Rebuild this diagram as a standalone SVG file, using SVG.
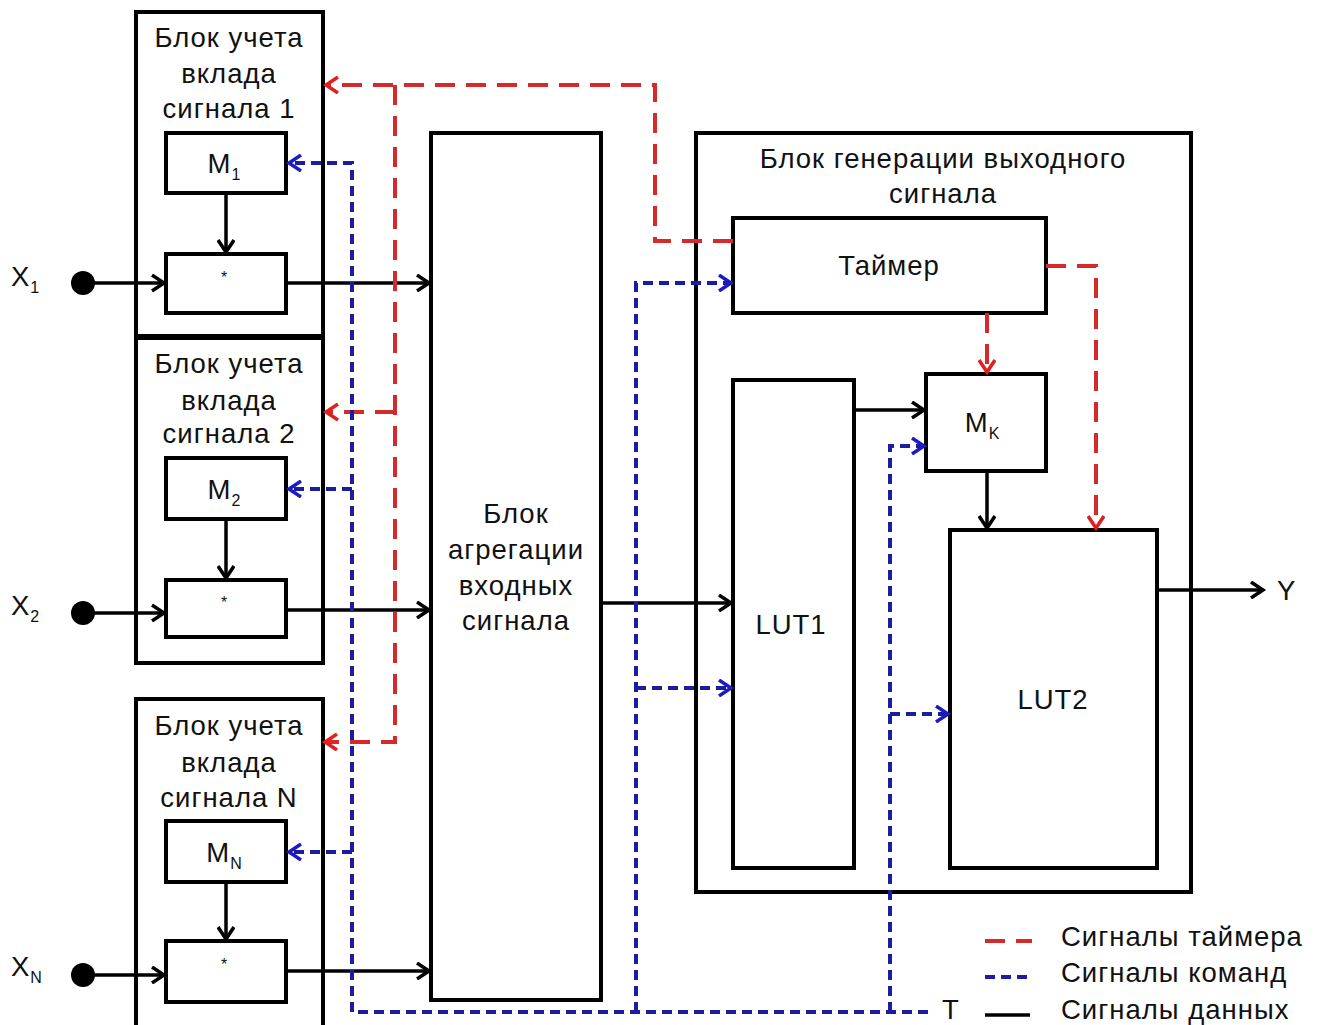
<svg xmlns="http://www.w3.org/2000/svg" width="1322" height="1025" viewBox="0 0 1322 1025">
<style>
  .box{fill:#fff;stroke:#000;stroke-width:4}
  .t{font-family:"Liberation Sans",Arial,sans-serif;font-size:27.5px;letter-spacing:1px;fill:#111;text-anchor:middle}
  .tl{font-family:"Liberation Sans",Arial,sans-serif;font-size:27.5px;letter-spacing:1px;fill:#111}
  .sub{font-size:16px;letter-spacing:0}
  .star{font-family:"Liberation Sans",Arial,sans-serif;font-size:16px;fill:#111;text-anchor:middle}
  .data{fill:none;stroke:#000;stroke-width:3.5}
  .red{fill:none;stroke:#d42a2a;stroke-width:4;stroke-dasharray:20 11}
  .blue{fill:none;stroke:#1c1ca0;stroke-width:4;stroke-dasharray:10 6}
</style>
<defs>
  <marker id="ak" markerUnits="userSpaceOnUse" markerWidth="18" markerHeight="18" refX="14" refY="9" orient="auto">
    <path d="M2,1 L14,9 L2,17" fill="none" stroke="#000" stroke-width="3.5"/>
  </marker>
  <marker id="ar" markerUnits="userSpaceOnUse" markerWidth="18" markerHeight="18" refX="14" refY="9" orient="auto">
    <path d="M2,1 L14,9 L2,17" fill="none" stroke="#e02020" stroke-width="3.5"/>
  </marker>
  <marker id="ab" markerUnits="userSpaceOnUse" markerWidth="18" markerHeight="18" refX="14" refY="9" orient="auto">
    <path d="M2,1 L14,9 L2,17" fill="none" stroke="#1c1cc0" stroke-width="3.5"/>
  </marker>
</defs>
<rect width="1322" height="1025" fill="#fff"/>

<g id="block1">
  <rect class="box" x="136" y="12" width="187" height="324"/>
  <text class="t" x="229" y="47">Блок учета</text>
  <text class="t" x="229" y="83">вклада</text>
  <text class="t" x="229" y="118">сигнала  1</text>
</g>
<g id="m1">
  <rect class="box" x="166" y="133" width="120" height="60"/>
  <text class="t" x="224" y="173">M<tspan class="sub" dy="7">1</tspan></text>
</g>
<g id="mul1">
  <rect class="box" x="166" y="254" width="120" height="59"/>
  <text class="star" x="224" y="283">*</text>
</g>

<g id="block2">
  <rect class="box" x="136" y="338" width="187" height="325"/>
  <text class="t" x="229" y="373">Блок учета</text>
  <text class="t" x="229" y="410">вклада</text>
  <text class="t" x="229" y="443">сигнала  2</text>
</g>
<g id="m2">
  <rect class="box" x="166" y="458" width="120" height="61"/>
  <text class="t" x="224" y="499">M<tspan class="sub" dy="7">2</tspan></text>
</g>
<g id="mul2">
  <rect class="box" x="166" y="580" width="120" height="57"/>
  <text class="star" x="224" y="608">*</text>
</g>

<g id="blockN">
  <rect class="box" x="136" y="699" width="187" height="340"/>
  <text class="t" x="229" y="735">Блок учета</text>
  <text class="t" x="229" y="772">вклада</text>
  <text class="t" x="229" y="807">сигнала N</text>
</g>
<g id="mN">
  <rect class="box" x="166" y="821" width="120" height="61"/>
  <text class="t" x="224" y="862">M<tspan class="sub" dy="7">N</tspan></text>
</g>
<g id="mulN">
  <rect class="box" x="166" y="941" width="120" height="61"/>
  <text class="star" x="224" y="970">*</text>
</g>

<g id="inputs">
  <text class="tl" x="11" y="286">X<tspan class="sub" dy="7">1</tspan></text>
  <circle cx="83" cy="283" r="12" fill="#000"/>
  <text class="tl" x="11" y="615">X<tspan class="sub" dy="7">2</tspan></text>
  <circle cx="83" cy="613" r="12" fill="#000"/>
  <text class="tl" x="11" y="976">X<tspan class="sub" dy="7">N</tspan></text>
  <circle cx="83" cy="975" r="12" fill="#000"/>
</g>

<g id="aggregation">
  <rect class="box" x="431" y="133" width="170" height="867"/>
  <text class="t" x="516" y="523">Блок</text>
  <text class="t" x="516" y="559">агрегации</text>
  <text class="t" x="516" y="595">входных</text>
  <text class="t" x="516" y="630">сигнала</text>
</g>

<g id="output-block">
  <rect class="box" x="696" y="133" width="495" height="759"/>
  <text class="t" x="943" y="168">Блок генерации выходного</text>
  <text class="t" x="943" y="203">сигнала</text>
</g>
<g id="timer">
  <rect class="box" x="733" y="218" width="313" height="95"/>
  <text class="t" x="889" y="275">Таймер</text>
</g>
<g id="lut1">
  <rect class="box" x="733" y="380" width="121" height="488"/>
  <text class="t" x="791" y="634">LUT1</text>
</g>
<g id="mk">
  <rect class="box" x="926" y="374" width="120" height="97"/>
  <text class="t" x="982" y="432">M<tspan class="sub" dy="7">K</tspan></text>
</g>
<g id="lut2">
  <rect class="box" x="950" y="530" width="207" height="338"/>
  <text class="t" x="1053" y="709">LUT2</text>
</g>
<g id="output-y">
  <text class="tl" x="1277" y="600">Y</text>
</g>
<g id="t-input">
  <text class="tl" x="942" y="1019">T</text>
</g>

<g id="connectors">
  <!-- data -->
  <path class="data" d="M83,283 H164" marker-end="url(#ak)"/>
  <path class="data" d="M286,283 H429" marker-end="url(#ak)"/>
  <path class="data" d="M226,193 V252" marker-end="url(#ak)"/>
  <path class="data" d="M83,613 H164" marker-end="url(#ak)"/>
  <path class="data" d="M286,610 H429" marker-end="url(#ak)"/>
  <path class="data" d="M226,519 V578" marker-end="url(#ak)"/>
  <path class="data" d="M83,975 H164" marker-end="url(#ak)"/>
  <path class="data" d="M286,971 H429" marker-end="url(#ak)"/>
  <path class="data" d="M226,882 V939" marker-end="url(#ak)"/>
  <path class="data" d="M601,603 H731" marker-end="url(#ak)"/>
  <path class="data" d="M854,410 H924" marker-end="url(#ak)"/>
  <path class="data" d="M987,471 V528" marker-end="url(#ak)"/>
  <path class="data" d="M1157,590 H1263" marker-end="url(#ak)"/>
  <!-- timer signals -->
  <path class="red" d="M733,241 H655 V85 H326" marker-end="url(#ar)"/>
  <path class="red" d="M395,85 V742 H325" marker-end="url(#ar)"/>
  <path class="red" d="M395,412 H326" marker-end="url(#ar)"/>
  <path class="red" d="M987,313 V372" marker-end="url(#ar)"/>
  <path class="red" d="M1046,266 H1096 V528" marker-end="url(#ar)"/>
  <!-- command signals -->
  <path class="blue" d="M928,1012 H352 V163 H289" marker-end="url(#ab)"/>
  <path class="blue" d="M352,489 H289" marker-end="url(#ab)"/>
  <path class="blue" d="M352,852 H289" marker-end="url(#ab)"/>
  <path class="blue" d="M636,1012 V283 H731" marker-end="url(#ab)"/>
  <path class="blue" d="M636,688 H731" marker-end="url(#ab)"/>
  <path class="blue" d="M890,1012 V446 H924" marker-end="url(#ab)"/>
  <path class="blue" d="M890,714 H948" marker-end="url(#ab)"/>
</g>

<g id="legend">
  <path class="red" d="M985,941 H1032"/>
  <text class="tl" x="1061" y="946">Сигналы таймера</text>
  <path class="blue" d="M985,977 H1032"/>
  <text class="tl" x="1061" y="982">Сигналы команд</text>
  <path class="data" d="M985,1015 H1030"/>
  <text class="tl" x="1061" y="1019">Сигналы данных</text>
</g>
</svg>
